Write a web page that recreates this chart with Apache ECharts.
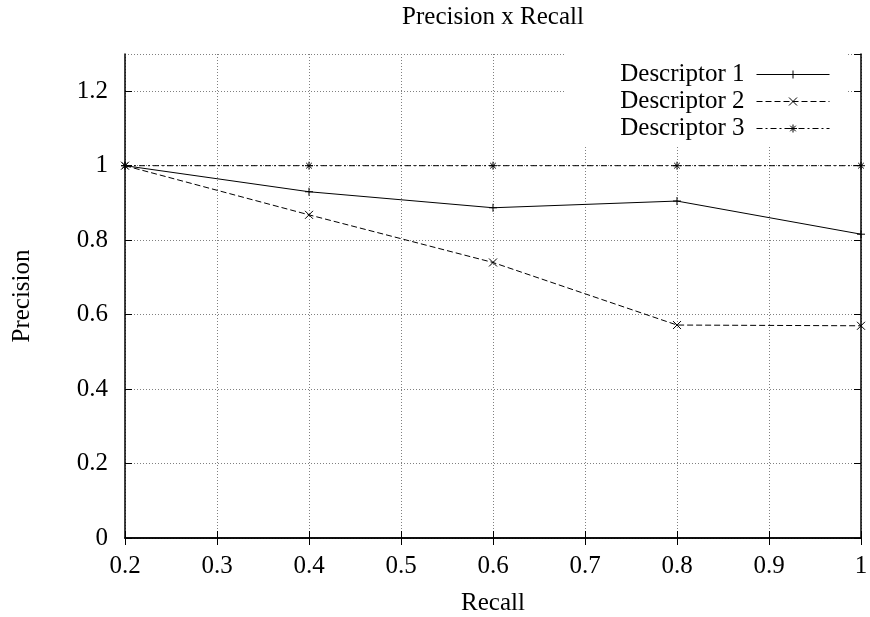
<!DOCTYPE html>
<html>
<head>
<meta charset="utf-8">
<script src="https://cdn.jsdelivr.net/npm/echarts@6/dist/echarts.min.js"></script>
<style>
html,body{margin:0;padding:0;background:#fff;}
#chart{width:870px;height:617px;}
</style>
</head>
<body>
<div id="chart"></div>
<script>
var recall = [0.2, 0.4, 0.6, 0.8, 1.0];
var descriptor1 = [1.0, 0.930, 0.887, 0.905, 0.816];
var descriptor2 = [1.0, 0.868, 0.740, 0.572, 0.570];
var descriptor3 = [1.0, 1.0, 1.0, 1.0, 1.0];
var seriesNames = ['Descriptor 1', 'Descriptor 2', 'Descriptor 3'];
var titleText = 'Precision x Recall';
var xName = 'Recall';
var yName = 'Precision';

var FONT = 'Liberation Serif';
var FS = 25;

function pairs(ys) { return recall.map(function (x, i) { return [x, ys[i]]; }); }

var plusSym = 'path://M0,5L10,5M5,0L5,10';
var crossSym = 'path://M0,0L10,10M10,0L0,10';
var starSym = 'path://M0,5L10,5M5,0L5,10M1.5,1.5L8.5,8.5M8.5,1.5L1.5,8.5';

function lineSeries(name, ys, sym, dash) {
  return {
    name: name,
    type: 'line',
    data: pairs(ys),
    symbol: sym,
    symbolSize: 8,
    showSymbol: true,
    lineStyle: { color: '#000', width: 1, type: dash },
    itemStyle: { color: 'rgba(0,0,0,0)', borderColor: '#000', borderWidth: 1 },
    emphasis: { disabled: true },
    z: 3
  };
}

var chart = echarts.init(document.getElementById('chart'), null, { renderer: 'canvas' });
var tickStyle = { show: true, inside: true, length: 7, lineStyle: { color: '#000', width: 1 } };
var axisLineStyle = { show: true, lineStyle: { color: '#000', width: 1.5 } };
var gridLine = { show: true, lineStyle: { color: '#808080', width: 1, type: [1, 2] } };
var labelStyle = { fontFamily: FONT, fontSize: FS, color: '#000' };

chart.setOption({
  animation: false,
  backgroundColor: '#fff',
  textStyle: { fontFamily: FONT },
  grid: { left: 125, right: 9, top: 54, bottom: 79, containLabel: false, outerBoundsMode: 'none' },
  legend: {
    data: seriesNames,
    orient: 'vertical',
    align: 'right',
    right: 22,
    top: 54,
    padding: [8, 18, 4, 56],
    backgroundColor: '#fff',
    itemWidth: 73,
    itemHeight: 10,
    itemGap: 2,
    selectedMode: false,
    lineStyle: { width: 1 },
    itemStyle: { borderWidth: 1 },
    textStyle: { fontFamily: FONT, fontSize: FS, color: '#000', lineHeight: 25, padding: [0, 7, 0, 0] }
  },
  xAxis: [{
    type: 'value', min: 0.2, max: 1, interval: 0.1, position: 'bottom',
    name: xName, nameLocation: 'middle', nameGap: 53,
    nameTextStyle: labelStyle,
    axisLine: axisLineStyle, axisTick: tickStyle,
    axisLabel: { show: true, margin: 16, fontFamily: FONT, fontSize: FS, color: '#000',
      formatter: function (v) { return String(+v.toFixed(1)); } },
    splitLine: gridLine
  }, {
    type: 'value', min: 0.2, max: 1, interval: 0.1, position: 'top',
    name: titleText, nameLocation: 'middle', nameGap: 24,
    nameTextStyle: labelStyle,
    axisLine: axisLineStyle, axisTick: tickStyle,
    axisLabel: { show: false }, splitLine: { show: false }
  }],
  yAxis: [{
    type: 'value', min: 0, max: 1.3, interval: 0.2, position: 'left',
    name: yName, nameLocation: 'middle', nameGap: 90, nameRotate: 90,
    nameTextStyle: labelStyle,
    axisLine: axisLineStyle, axisTick: tickStyle,
    axisLabel: { show: true, margin: 17, showMaxLabel: false, fontFamily: FONT, fontSize: FS, color: '#000',
      formatter: function (v) { return String(+v.toFixed(1)); } },
    splitLine: gridLine
  }, {
    type: 'value', min: 0, max: 1.3, interval: 0.2, position: 'right',
    axisLine: axisLineStyle, axisTick: tickStyle,
    axisLabel: { show: false }, splitLine: { show: false }
  }],
  series: [
    lineSeries(seriesNames[0], descriptor1, plusSym, 'solid'),
    lineSeries(seriesNames[1], descriptor2, crossSym, [6, 3]),
    lineSeries(seriesNames[2], descriptor3, starSym, [6, 3, 2, 3])
  ]
});
</script>
</body>
</html>
